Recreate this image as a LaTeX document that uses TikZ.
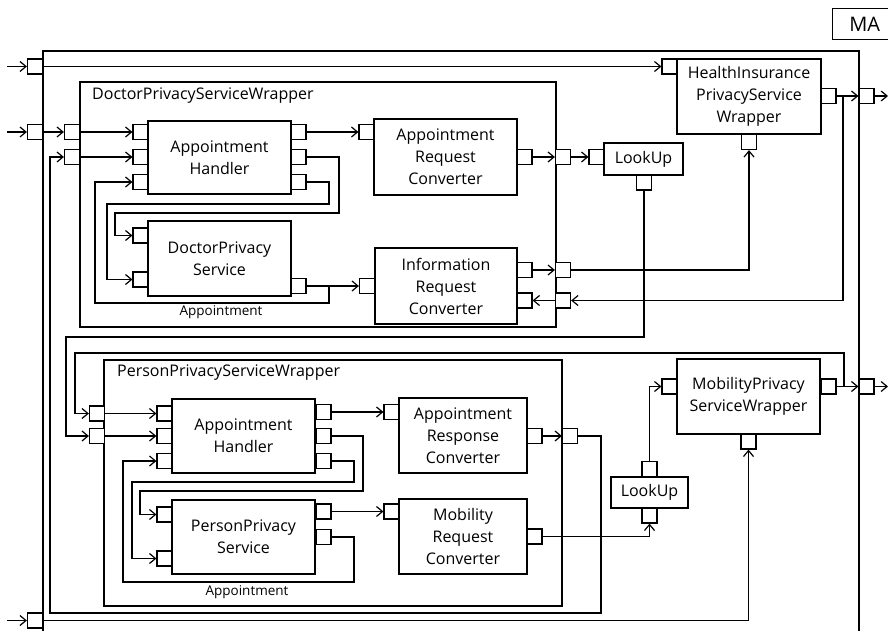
\documentclass[tikz,border=0pt]{standalone}
\usepackage{fontspec}
\setmainfont{Open Sans}
\usetikzlibrary{arrows.meta}
\begin{document}
\begin{tikzpicture}[x=1pt,y=-1pt,
  wire/.style={line width=1.2pt},
  box/.style={draw, line width=1.2pt, inner sep=0pt, align=center, font=\fontsize{16}{22}\selectfont},
  port/.style={draw, fill=white, line width=1.2pt, minimum width=15pt, minimum height=15pt, inner sep=0pt},
  lbl/.style={inner sep=0pt, font=\fontsize{16}{19}\selectfont},
  small/.style={inner sep=0pt, font=\fontsize{13.5}{16}\selectfont},
  arr/.style={wire, -{Straight Barb[length=6pt,width=10pt]}}
]
\useasboundingbox (0,0) rectangle (888,631);
\clip (0,0) rectangle (888,631);

% MA frame and label
\draw[wire] (43,640) -- (43,51) -- (859,51) -- (859,640);
\node[box, minimum width=64pt, minimum height=31pt, anchor=north west, font=\fontsize{20}{22}\selectfont] (ma) at (832,8) {MA};

% Doctor wrapper
\node[box, minimum width=476pt, minimum height=245pt] (dw) at (318,204.5) {};
\node[lbl, anchor=west] (dwl) at (92,96) {DoctorPrivacyServiceWrapper};
\node[box, minimum width=143pt, minimum height=73pt] (ahD) at (219.5,157.5) {Appointment\\Handler};
\node[box, minimum width=143pt, minimum height=76pt] (arc) at (445.5,157) {Appointment\\Request\\Converter};
\node[box, minimum width=143pt, minimum height=75pt] (dps) at (219.5,258.5) {DoctorPrivacy\\Service};
\node[box, minimum width=142pt, minimum height=76pt] (irc) at (446,286) {Information\\Request\\Converter};
\node[small] (apD) at (221,312) {Appointment};

% Person wrapper
\node[box, minimum width=458pt, minimum height=246pt] (pw) at (333,483) {};
\node[lbl, anchor=west] (pwl) at (117,373) {PersonPrivacyServiceWrapper};
\node[box, minimum width=143pt, minimum height=74pt] (ahP) at (243.5,436) {Appointment\\Handler};
\node[box, minimum width=128pt, minimum height=75pt] (aprc) at (463,435.5) {Appointment\\Response\\Converter};
\node[box, minimum width=143pt, minimum height=74pt] (pps) at (243.5,537) {PersonPrivacy\\Service};
\node[box, minimum width=128pt, minimum height=75pt] (mrc) at (463,536.5) {Mobility\\Request\\Converter};
\node[small] (apP) at (247,592) {Appointment};

% Right side components
\node[box, minimum width=144pt, minimum height=75pt] (hi) at (749,96.5) {HealthInsurance\\PrivacyService\\Wrapper};
\node[box, minimum width=143pt, minimum height=75pt] (mob) at (748.5,396.5) {MobilityPrivacy\\ServiceWrapper};
\node[box, minimum width=79pt, minimum height=32pt] (luA) at (643.5,159) {LookUp};
\node[box, minimum width=77pt, minimum height=31pt] (luB) at (649.5,492.5) {LookUp};

% Ports
\node[port] (maL1) at (35,66.5) {};
\node[port] (maL2) at (35,132) {};
\node[port] (maL3) at (35,620.5) {};
\node[port] (maR1) at (866.5,96) {};
\node[port] (maR2) at (866.5,386.5) {};
\node[port] (hiI) at (669.5,66.5) {};
\node[port] (hiO) at (828.5,96) {};
\node[port] (hiB) at (749,142) {};
\node[port] (mobI) at (669.5,386.5) {};
\node[port] (mobO) at (828.5,386.5) {};
\node[port] (mobB) at (748.5,441.5) {};
\node[port] (luAi) at (596.5,157) {};
\node[port] (luAb) at (644,182.5) {};
\node[port] (luBt) at (649.5,469) {};
\node[port] (luBb) at (649.5,515.5) {};
\node[port] (dwL1) at (72,132) {};
\node[port] (dwL2) at (72,157) {};
\node[port] (dwR1) at (563,157) {};
\node[port] (dwR2) at (563,270) {};
\node[port] (dwR3) at (563,300.5) {};
\node[port] (ahDi1) at (140.5,132) {};
\node[port] (ahDi2) at (140.5,157) {};
\node[port] (ahDi3) at (140.5,182) {};
\node[port] (ahDo1) at (298.5,132) {};
\node[port] (ahDo2) at (298.5,157) {};
\node[port] (ahDo3) at (298.5,182) {};
\node[port] (arcI) at (366.5,132) {};
\node[port] (arcO) at (524.5,157) {};
\node[port] (dpsI1) at (140.5,235.5) {};
\node[port] (dpsI2) at (140.5,279.5) {};
\node[port] (dpsO) at (298.5,286) {};
\node[port] (ircI) at (367,286) {};
\node[port] (ircO1) at (524.5,270) {};
\node[port] (ircO2) at (524.5,300.5) {};
\node[port] (pwL1) at (97,413.5) {};
\node[port] (pwL2) at (97,436) {};
\node[port] (pwR1) at (570,436) {};
\node[port] (ahPi1) at (164.5,413.5) {};
\node[port] (ahPi2) at (164.5,436) {};
\node[port] (ahPi3) at (164.5,461) {};
\node[port] (ahPo1) at (323.5,412) {};
\node[port] (ahPo2) at (323.5,436) {};
\node[port] (ahPo3) at (323.5,461) {};
\node[port] (aprcI) at (391.5,412) {};
\node[port] (aprcO) at (534.5,436) {};
\node[port] (ppsI1) at (164.5,514.5) {};
\node[port] (ppsI2) at (164.5,558.5) {};
\node[port] (ppsO1) at (323.5,511.5) {};
\node[port] (ppsO2) at (323.5,537) {};
\node[port] (mrcI) at (391.5,511.5) {};
\node[port] (mrcO) at (534.5,536.5) {};

% free ends
\coordinate (in1) at (7,66.5);
\coordinate (in2) at (7,132);
\coordinate (in3) at (7,620.5);
\coordinate (out1) at (888,96);
\coordinate (out2) at (888,386.5);

% Connectors
\draw[arr] (in1) -- (maL1.west);
\draw[arr] (maL1.east) -- (hiI.west);
\draw[arr] (in2) -- (maL2.west);
\draw[arr] (maL2.east) -- (dwL1.west);
\draw[arr] (dwL1.east) -- (ahDi1.west);
\draw[arr] (dwL2.east) -- (ahDi2.west);
\draw[arr] (ahDo1.east) -- (arcI.west);
\draw[arr] (arcO.east) -- (dwR1.west);
\draw[arr] (dwR1.east) -- (luAi.west);
\draw[arr] (ahDo2.east) -| (339,213) -- (115,213) |- (dpsI1.west);
\draw[arr] (ahDo3.east) -| (329,204) -- (107,204) |- (dpsI2.west);
\draw[arr] (dpsO.east) -- (ircI.west);
\draw[arr] (dpsO.east) -| (329,303) -- (95,303) |- (ahDi3.west);
\draw[arr] (ircO1.east) -- (dwR2.west);
\draw[arr] (dwR2.east) -| (hiB.south);
\draw[arr] (hiO.east) -- (maR1.west);
\draw[arr] (hiO.east) -| (843,300.5) -- (dwR3.east);
\draw[arr] (dwR3.west) -- (ircO2.east);
\draw[arr] (luAb.south) |- (66,337) |- (pwL2.west);
\draw[arr] (mobO.east) -- (maR2.west);
\draw[arr] (mobO.east) -| (844,353) -- (75,353) |- (pwL1.west);
\draw[arr] (pwL1.east) -- (ahPi1.west);
\draw[arr] (pwL2.east) -- (ahPi2.west);
\draw[arr] (ahPo1.east) -- (aprcI.west);
\draw[arr] (aprcO.east) -- (pwR1.west);
\draw[arr] (pwR1.east) -| (601,613) -- (50,613) |- (dwL2.west);
\draw[arr] (ahPo2.east) -| (363,491) -- (140,491) |- (ppsI1.west);
\draw[arr] (ahPo3.east) -| (354,482) -- (132,482) |- (ppsI2.west);
\draw[arr] (ppsO1.east) -- (mrcI.west);
\draw[arr] (ppsO2.east) -| (354,582) -- (123,582) |- (ahPi3.west);
\draw[arr] (mrcO.east) -| (luBb.south);
\draw[arr] (luBt.north) |- (mobI.west);
\draw[arr] (in3) -- (maL3.west);
\draw[arr] (maL3.east) -| (mobB.south);
\draw[arr] (maR1.east) -- (out1);
\draw[arr] (maR2.east) -- (out2);
\end{tikzpicture}
\end{document}
